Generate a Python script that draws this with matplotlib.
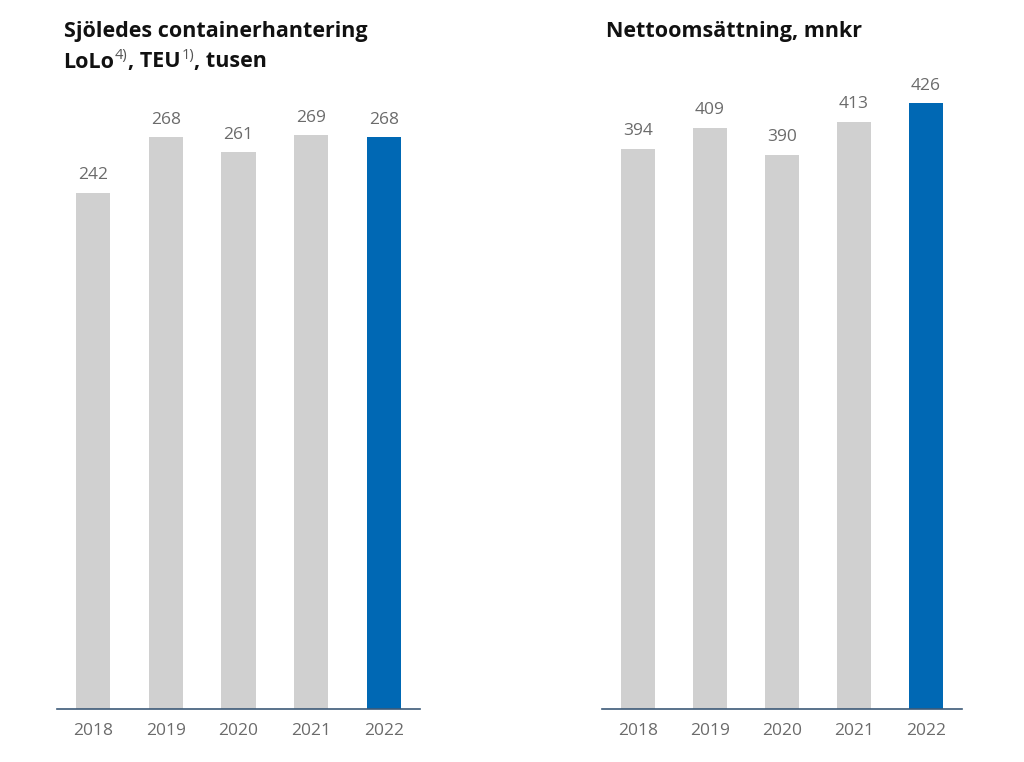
import matplotlib
matplotlib.use("Agg")
import matplotlib.pyplot as plt

# Data
years = ["2018", "2019", "2020", "2021", "2022"]
teu_values = [242, 268, 261, 269, 268]
sales_values = [394, 409, 390, 413, 426]

GREY = "#d0d0d0"
BLUE = "#0068b4"
LABEL = "#6b6b6b"
AXIS = "#3d5a78"

plt.rcParams["font.family"] = ["Open Sans", "DejaVu Sans"]

W, H = 1024, 762
fig = plt.figure(figsize=(W / 100, H / 100), dpi=100)


def px_axes(x0, x1, y_top, y_base):
    return fig.add_axes([x0 / W, (H - y_base) / H, (x1 - x0) / W, (y_base - y_top) / H])


def draw_panel(ax, values, ymax):
    colors = [GREY] * (len(values) - 1) + [BLUE]
    bars = ax.bar(range(len(values)), values, width=0.47, color=colors)
    for b, v in zip(bars, values):
        ax.annotate(str(v), (b.get_x() + b.get_width() / 2, v), xytext=(0, 7),
                    textcoords="offset points", ha="center", va="bottom",
                    fontsize=12.5, color=LABEL)
    ax.set_xlim(-0.5, len(values) - 0.5)
    ax.set_ylim(0, ymax)
    ax.set_xticks(range(len(values)))
    ax.set_xticklabels(years, fontsize=12.5, color=LABEL)
    ax.tick_params(axis="x", length=0, pad=10)
    ax.set_yticks([])
    for s in ["top", "left", "right"]:
        ax.spines[s].set_visible(False)
    ax.spines["bottom"].set_color(AXIS)
    ax.spines["bottom"].set_linewidth(1.2)


ax1 = px_axes(57, 420, 90, 709)
draw_panel(ax1, teu_values, 619 / 2.133)
ax2 = px_axes(602, 962, 90, 709)
draw_panel(ax2, sales_values, 619 / 1.4215)

# titles
TSIZE = 15.5
fig.text(64 / W, 1 - 32 / H, "Sjöledes containerhantering", fontsize=TSIZE,
         fontweight="bold", va="center", ha="left", color="#111111")
fig.text(606 / W, 1 - 32 / H, "Nettoomsättning, mnkr", fontsize=TSIZE,
         fontweight="bold", va="center", ha="left", color="#111111")

# second title line with superscripts, placed piece by piece
renderer = fig.canvas.get_renderer()
pieces = [("LoLo", False), ("4)", True), (", TEU", False), ("1)", True), (", tusen", False)]
x = 63 / W
y = 1 - 62 / H
for txt, sup in pieces:
    if sup:
        t = fig.text(x + 1 / W, y + 7 / H, txt, fontsize=10.5, color="#555555",
                     va="center", ha="left")
    else:
        t = fig.text(x, y, txt, fontsize=TSIZE, fontweight="bold", color="#111111",
                     va="center", ha="left")
    bb = t.get_window_extent(renderer)
    x = bb.x1 / W

fig.savefig("out.png", dpi=100)
